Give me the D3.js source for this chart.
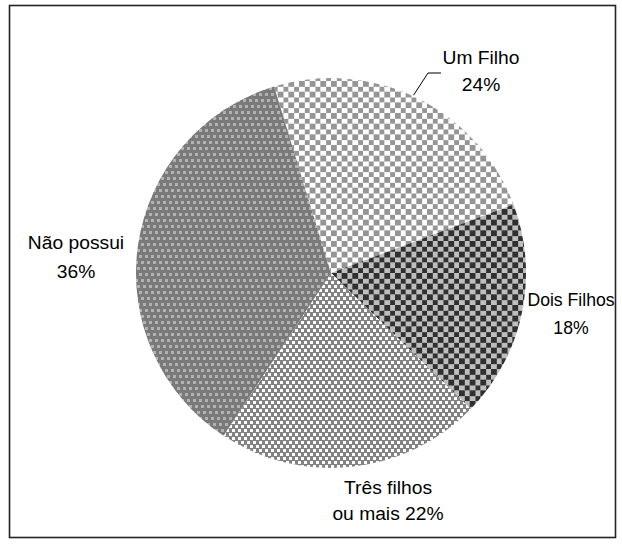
<!DOCTYPE html>
<html>
<head>
<meta charset="utf-8">
<script src="https://cdn.jsdelivr.net/npm/d3@7"></script>
<style>
  html, body { margin: 0; padding: 0; background: #fff; }
  svg { display: block; }
  text { font-family: "Liberation Sans", Arial, sans-serif; font-size: 18px; fill: #000; }
</style>
</head>
<body>
<svg id="chart" width="622" height="544"></svg>
<script>
// Number of children per family (share of respondents, %)
const categories = ["Um Filho", "Dois Filhos", "Três filhos ou mais", "Não possui"];
const values = [24, 18, 22, 36];
const labelLines = [["Um Filho", "24%"], ["Dois Filhos", "18%"], ["Três filhos", "ou mais 22%"], ["Não possui", "36%"]];

const width = 622, height = 544;
const cx = 331, cy = 273, radius = 195;
const startDeg = -17;

const svg = d3.select("#chart");
const defs = svg.append("defs");

// Fill patterns, one per slice
function checker(id, bg, fg, cell) {
  const p = defs.append("pattern").attr("id", id).attr("patternUnits", "userSpaceOnUse")
    .attr("width", cell * 2).attr("height", cell * 2);
  p.append("rect").attr("width", cell * 2).attr("height", cell * 2).attr("fill", bg);
  [[0, 0], [cell, cell]].forEach(([x, y]) =>
    p.append("rect").attr("x", x).attr("y", y).attr("width", cell).attr("height", cell)
      .attr("fill", fg).attr("shape-rendering", "crispEdges"));
}
// Staggered lattice of small squares: rows `rowH` apart, each shifted by `shift`
function lattice(id, bg, fg, px, rowH, shift, size, rows) {
  const p = defs.append("pattern").attr("id", id).attr("patternUnits", "userSpaceOnUse")
    .attr("width", px).attr("height", rowH * rows);
  p.append("rect").attr("width", px).attr("height", rowH * rows).attr("fill", bg);
  for (let r = 0; r < rows; r++) {
    const x0 = (r * shift) % px;
    [x0, x0 - px].forEach(x =>
      p.append("rect").attr("x", x).attr("y", r * rowH).attr("width", size).attr("height", size)
        .attr("fill", fg).attr("shape-rendering", "crispEdges"));
  }
}
checker("pat0", "#ffffff", "#959595", 16 / 3);
checker("pat1", "#bebebe", "#303030", 16 / 3);
lattice("pat2", "#838383", "#ffffff", 6, 4, 3, 3, 2);
lattice("pat3", "#7a7a7a", "#b2b2b2", 6, 6, 2, 3, 3);

// Outer frame
svg.append("rect")
  .attr("x", 9.5).attr("y", 5.5)
  .attr("width", 606).attr("height", 532)
  .attr("fill", "none").attr("stroke", "#222").attr("stroke-width", 1.6);

const a0 = startDeg * Math.PI / 180;
const pie = d3.pie().sort(null).startAngle(a0).endAngle(a0 + 2 * Math.PI);
const arc = d3.arc().innerRadius(0).outerRadius(radius);
const arcs = pie(values);

const g = svg.append("g").attr("transform", `translate(${cx},${cy})`);
g.selectAll("path.slice")
  .data(arcs)
  .join("path")
  .attr("class", "slice")
  .attr("d", arc)
  .attr("fill", (d, i) => `url(#pat${i})`);

// Label placement (page coordinates of the first baseline, centred)
const labelPos = [
  { x: 481, y: 64, dy: 27, sx: 1.07 },
  { x: 571, y: 306, dy: 28, sx: 0.98 },
  { x: 388, y: 494, dy: 26, sx: 1.07 },
  { x: 76, y: 249, dy: 29, sx: 1.07 }
];

svg.selectAll("text.lbl")
  .data(arcs)
  .join("text")
  .attr("class", "lbl")
  .attr("text-anchor", "middle")
  .attr("transform", (d, i) => `translate(${labelPos[i].x},0) scale(${labelPos[i].sx},1)`)
  .each(function (d, i) {
    const t = d3.select(this);
    labelLines[i].forEach((line, k) => {
      t.append("tspan")
        .attr("x", 0)
        .attr("y", labelPos[i].y + k * labelPos[i].dy)
        .text(line);
    });
  });

// Leader line from the "Um Filho" slice edge to its label
const edgeA = arcs[0].startAngle + (arcs[0].endAngle - arcs[0].startAngle) * 0.485;
const ex = cx + Math.sin(edgeA) * (radius + 1);
const ey = cy - Math.cos(edgeA) * (radius + 1);
svg.append("polyline")
  .attr("points", `${ex},${ey} 428,73 441,73`)
  .attr("fill", "none").attr("stroke", "#000").attr("stroke-width", 1);
</script>
</body>
</html>
